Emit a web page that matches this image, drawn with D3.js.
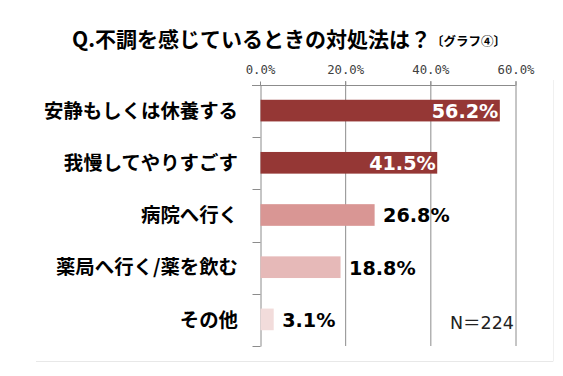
<!DOCTYPE html>
<html><head><meta charset="utf-8">
<script src="https://cdn.jsdelivr.net/npm/d3@7"></script>
<style>body{margin:0;background:#fff}svg{display:block}</style>
</head><body>
<svg id="c" width="563" height="376"></svg>
<script>
const categories = ["安静もしくは休養する","我慢してやりすごす","病院へ行く","薬局へ行く/薬を飲む","その他"];
const values = [56.2, 41.5, 26.8, 18.8, 3.1];
const barColors = ["#953735","#953735","#d99694","#e6b9b8","#f2dcdb"];
const insideLabel = [true, true, false, false, false];
const xTicks = [0, 20, 40, 60];
const titleMain = "Q.不調を感じているときの対処法は？";
const titleSub = "〔グラフ④〕";
const note = "N＝224";

const svg = d3.select("#c");
const font = "'Noto Sans CJK JP','Noto Sans',sans-serif";
const numFont = "'DejaVu Sans','Noto Sans CJK JP',sans-serif";
const x = d3.scaleLinear().domain([0,60]).range([260,515.5]);
const y = d3.scaleBand().domain(categories).range([85,346]);

// panel border (light)
svg.append("line").attr("x1",36).attr("x2",553).attr("y1",361.5).attr("y2",361.5).attr("stroke","#e8e8e8");
svg.append("line").attr("x1",553.5).attr("x2",553.5).attr("y1",80).attr("y2",361.5).attr("stroke","#f0f0f0");

// title
const t = svg.append("text").attr("x",72).attr("y",47).attr("font-family",font).attr("font-weight","bold").attr("fill","#000");
t.append("tspan").attr("font-size",21).text(titleMain);
t.append("tspan").attr("font-size",12.5).attr("dx",0).attr("dy",-1).text(titleSub);

const gridColor = "#8c8c8c";
// vertical gridlines
svg.append("g").selectAll("line").data(xTicks.slice(1)).join("line")
  .attr("x1",d=>x(d)+0.5).attr("x2",d=>x(d)+0.5).attr("y1",81).attr("y2",346)
  .attr("stroke",gridColor).attr("stroke-width",1);

// top axis
const xAxis = d3.axisTop(x).tickValues(xTicks).tickSize(4).tickFormat(d=>d3.format(".1f")(d)+"%");
const gx = svg.append("g").attr("transform","translate(0,85.5)").call(xAxis);
gx.select(".domain").remove();
gx.append("line").attr("x1",252).attr("x2",x(60)).attr("y1",0).attr("y2",0).attr("stroke",gridColor);
gx.selectAll(".tick line").attr("stroke",gridColor);
gx.selectAll(".tick text").attr("font-family","'DejaVu Sans Mono',monospace").attr("font-size",12.3).attr("fill","#404040").attr("y",-16).attr("dy","0.35em");

// left axis
const yAxis = d3.axisLeft(y).tickSize(0).tickFormat("");
const gy = svg.append("g").attr("transform","translate(260.5,0)").call(yAxis);
gy.select(".domain").attr("stroke",gridColor);
const bounds = categories.map(c=>y(c)).concat([y.range()[1]]);
gy.selectAll(".bt").data(bounds).join("line").attr("class","bt")
  .attr("x1",-8).attr("x2",0).attr("y1",d=>Math.round(d)+0.5).attr("y2",d=>Math.round(d)+0.5).attr("stroke",gridColor);

// category labels
svg.append("g").selectAll("text").data(categories).join("text")
  .attr("x",238).attr("y",d=>y(d)+y.bandwidth()/2).attr("dy","0.35em")
  .attr("text-anchor","end").attr("font-family",font).attr("font-weight","bold").attr("font-size",19.4).attr("fill","#000")
  .text(d=>d);

// bars
const bh = y.bandwidth()*0.415;
svg.append("g").selectAll("rect").data(values).join("rect")
  .attr("x",x(0)+0.5).attr("y",(d,i)=>y(categories[i])+y.bandwidth()/2-bh/2-0.5)
  .attr("width",d=>x(d)-x(0)).attr("height",bh)
  .attr("fill",(d,i)=>barColors[i]);

// value labels
svg.append("g").selectAll("text").data(values).join("text")
  .attr("x",(d,i)=>insideLabel[i] ? x(d)-1 : x(d)+9)
  .attr("y",(d,i)=>y(categories[i])+y.bandwidth()/2).attr("dy","0.36em")
  .attr("text-anchor",(d,i)=>insideLabel[i]?"end":"start")
  .attr("font-family",numFont).attr("font-weight","bold").attr("font-size",19.2)
  .attr("fill",(d,i)=>insideLabel[i]?"#fff":"#000")
  .text(d=>d3.format(".1f")(d)+"%");

// note
svg.append("text").attr("x",514).attr("y",323).attr("dy","0.35em").attr("text-anchor","end")
  .attr("font-family",numFont).attr("font-size",17.5).attr("fill","#222").text(note);
</script>
</body></html>
